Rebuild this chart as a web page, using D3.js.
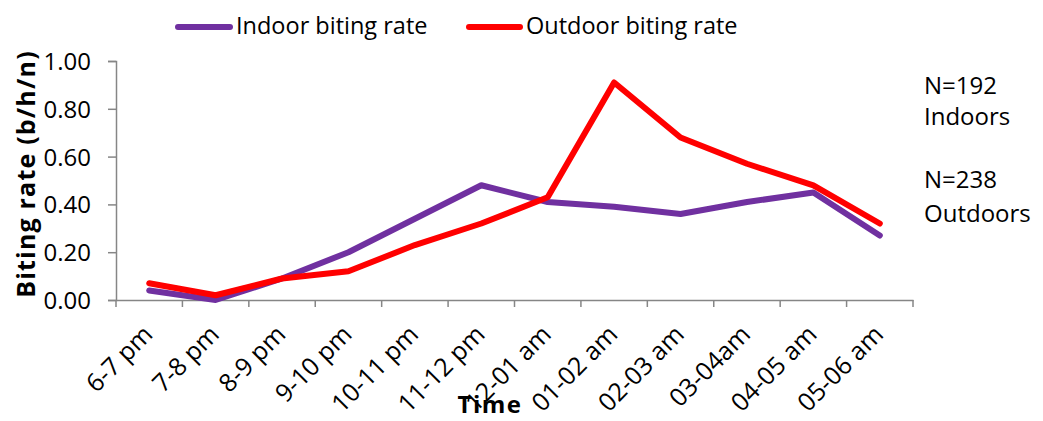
<!DOCTYPE html>
<html><head><meta charset="utf-8">
<script src="https://cdn.jsdelivr.net/npm/d3@7"></script>
<style>body{margin:0;background:#fff}svg{display:block}text{font-family:"Open Sans",sans-serif;fill:#000}</style>
</head><body><svg id="c" width="1043" height="421"></svg>
<script>
const categories = ["6-7 pm","7-8 pm","8-9 pm","9-10 pm","10-11 pm","11-12 pm","12-01 am","01-02 am","02-03 am","03-04am","04-05 am","05-06 am"];
const indoor = [0.04,0.00,0.09,0.20,0.34,0.48,0.41,0.39,0.36,0.41,0.45,0.27];
const outdoor = [0.07,0.02,0.09,0.12,0.23,0.32,0.43,0.91,0.68,0.57,0.48,0.32];
const yTicks = [0,0.2,0.4,0.6,0.8,1.0];
const seriesNames = ["Indoor biting rate","Outdoor biting rate"];
const colors = ["#7030A0","#FF0000"];
const FF = '"Open Sans",sans-serif';

const svg = d3.select("#c");
const L=116, R=913, T=61, B=300;
const x = d3.scaleBand().domain(categories).range([L,R]);
const y = d3.scaleLinear().domain([0,1]).range([B,T]);

const gy = svg.append("g").attr("transform",`translate(${L},0)`)
  .call(d3.axisLeft(y).tickValues(yTicks).tickFormat(d3.format(".2f")).tickSizeOuter(0).tickSize(8).tickPadding(17));
gy.select(".domain").attr("stroke","#868686").attr("stroke-width",1.5);
gy.selectAll(".tick line").attr("stroke","#868686").attr("stroke-width",1.5);
gy.selectAll("text").style("font-size","24px").style("font-family",FF).attr("fill","#000").attr("dy","0.35em");

const gx = svg.append("g").attr("transform",`translate(0,${B})`)
  .call(d3.axisBottom(x).tickSize(0).tickSizeOuter(0));
gx.select(".domain").attr("stroke","#868686").attr("stroke-width",1.5);
gx.selectAll(".tick line").remove();
const bounds = categories.map(c=>x(c)).concat([R]);
svg.append("g").selectAll("line").data(bounds).join("line")
  .attr("x1",d=>d).attr("x2",d=>d).attr("y1",B).attr("y2",B+7)
  .attr("stroke","#868686").attr("stroke-width",1.5);
gx.selectAll(".tick text").attr("fill","#000").style("font-size","25px").style("font-family",FF)
  .attr("text-anchor","end").attr("dy",null).attr("y",0)
  .attr("transform","translate(5,36) rotate(-45)");

const line = d3.line().x((d,i)=>x(categories[i])+x.bandwidth()/2).y(d=>y(d));
[indoor,outdoor].forEach((s,i)=>{
  svg.append("path").datum(s).attr("d",line).attr("fill","none")
    .attr("stroke",colors[i]).attr("stroke-width",6).attr("stroke-linejoin","round").attr("stroke-linecap","round");
});

const leg = [[178,230,236],[469,520,526]];
seriesNames.forEach((n,i)=>{
  svg.append("line").attr("x1",leg[i][0]).attr("x2",leg[i][1]).attr("y1",27).attr("y2",27)
    .attr("stroke",colors[i]).attr("stroke-width",6).attr("stroke-linecap","round");
  svg.append("text").attr("x",leg[i][2]).attr("y",34).style("font-size","23.5px").text(n);
});

svg.append("text").attr("transform","translate(35,174) rotate(-90)").attr("text-anchor","middle")
  .style("font-size","25px").style("font-weight","bold").style("letter-spacing","1.2px").text("Biting rate (b/h/n)");
svg.append("text").attr("x",490).attr("y",413).attr("text-anchor","middle")
  .style("font-size","24px").style("font-weight","bold").style("letter-spacing","1.5px").text("Time");

[["N=192",94],["Indoors",125],["N=238",188],["Outdoors",222]].forEach(d=>{
  svg.append("text").attr("x",924).attr("y",d[1]).style("font-size","24px").text(d[0]);
});
</script></body></html>
